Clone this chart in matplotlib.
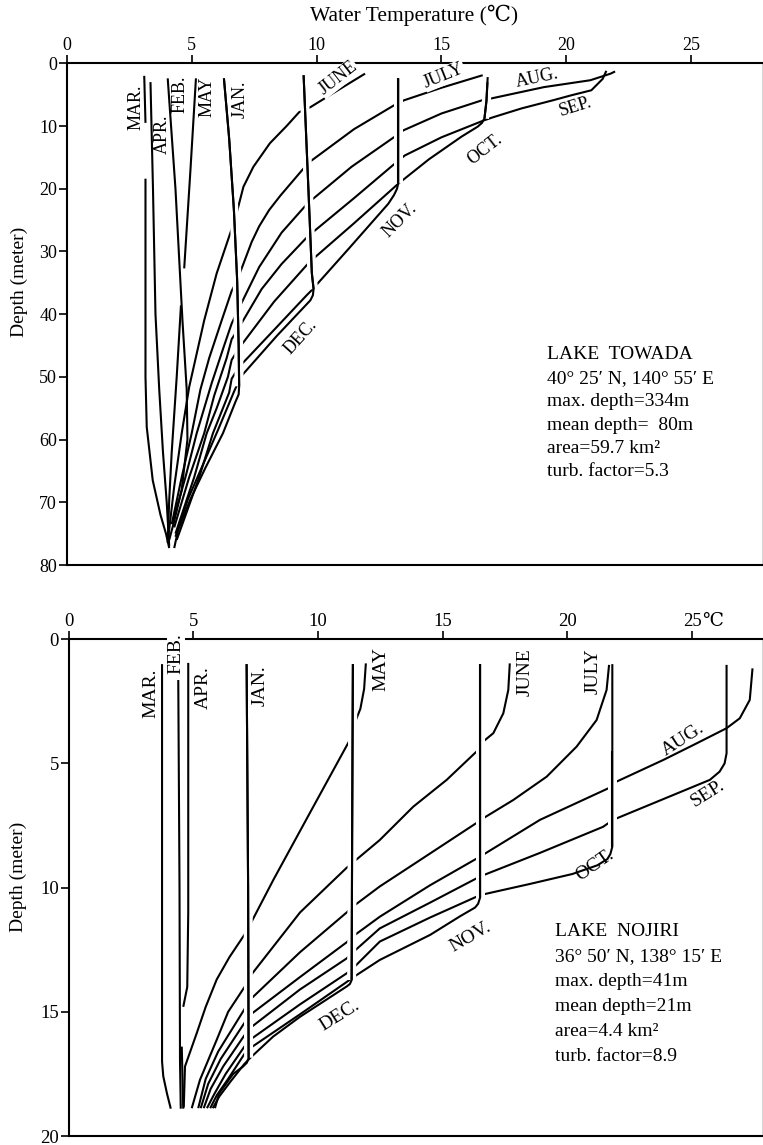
import numpy as np
import matplotlib
matplotlib.use("Agg")
import matplotlib.pyplot as plt
import matplotlib.patheffects as pe

nan = np.nan

# ---------------- Lake Towada: water temperature (deg C) against depth (m)
tw_mar_t = [3.1, 3.15, nan, 3.15, 3.15, 3.15, 3.2, 3.44, 3.75, 3.97, 4.1]
tw_mar_d = [2.0, 9.5, nan, 18.4, 35, 50, 58, 66.5, 72, 75, 77.3]
tw_apr_t = [3.35, 3.45, 3.55, 3.7, 3.85, 4.0, 4.1]
tw_apr_d = [3.0, 20, 40, 52, 62, 70, 77]
tw_feb_t = [4.04, 4.35, 4.63, 4.8, 4.83, 4.6, 4.3, 4.1]
tw_feb_d = [2.4, 20, 41, 52, 60, 68, 73, 76]
tw_may_t = [5.17, 4.95, 4.7, nan, 4.57, 4.4, 4.2, 4.1, 4.04]
tw_may_d = [2.4, 17, 32.7, nan, 38.6, 50, 62, 69.6, 76.5]
tw_jun_t = [11.94, 10.85, 9.75, 9.3, 8.8, 8.13, 7.47, 7.07, 6.76, 6.56, 6.0, 5.5, 4.9,
            4.6, 4.3, 4.05]
tw_jun_d = [1.65, 4.3, 7.0, 7.8, 10.0, 12.75, 16.5, 19.7, 24.5, 26.9, 33.5, 41, 51.6,
            59, 67.5, 76]
tw_jul_t = [16.65, 15.0, 13.5, 13.1, 11.5, 9.8, 9.6, 9.0, 8.55, 8.1, 7.7, 7.4, 6.82, 6.6,
            6.2, 5.7, 5.35, 5.0, 4.6, 4.2]
tw_jul_d = [1.9, 3.9, 5.9, 6.7, 10.5, 15.5, 16.2, 19, 21.1, 23.4, 26, 28.5, 34.6, 36.3,
            41, 47, 52, 59, 66, 73.5]
tw_aug_t = [21.95, 21.77, 20.96, 19.1, 17.0, 16.7, 15.0, 13.47, 13.13, 11.4, 9.8, 9.6,
            8.6, 7.7, 6.85, 6.6, 6.3, 5.8, 5.2, 4.75, 4.25]
tw_aug_d = [1.3, 1.65, 2.7, 3.8, 5.6, 5.8, 8.0, 10.7, 11.7, 16.5, 21.8, 22.5,
            27, 32.5, 39.4, 41.5, 45, 51, 59, 66, 73]
tw_sep_t = [21.6, 21.45, 21.0, 20.2, 19.46, 18.2, 17.07, 16.7, 15.0, 13.53, 13.13, 11.5,
            9.8, 9.6, 8.6, 7.8, 6.87, 6.6, 6.4, 5.9, 5.5, 4.9, 4.3]
tw_sep_d = [1.2, 2.5, 4.3, 5.1, 5.9, 7.2, 8.6, 9.1, 11.8, 14.7, 16, 21.5,
            27.1, 27.8, 32, 36, 42.3, 44, 47, 53, 59, 66, 74]
tw_oct_t = [16.85, 16.8, 16.72, 16.62, 16.45, 15.8, 14.5, 13.27, 11.5, 9.8, 9.6, 8.3, 6.88,
            6.6, 6.45, 6.0, 5.6, 5.1, 4.35]
tw_oct_d = [2.2, 6.0, 8.8, 9.5, 10.1, 11.7, 15.3, 19.2, 25.5, 31.4, 32.2, 38, 45.5,
            47.3, 50, 55, 59, 66, 75]
tw_nov_t = [13.27, 13.27, 13.27, 13.22, 13.1, 12.87, 11.3, 9.8, 9.6, 8.3, 6.9, 6.6, 6.5,
            5.85, 5.3, 4.4]
tw_nov_d = [2.4, 12, 19.1, 20.0, 21.0, 22.4, 29.5, 36.2, 37.0, 42.5, 48.4, 50.3, 52.5,
            59, 66, 76]
tw_dec_t = [9.48, 9.68, 9.81, 9.88, 9.85, 9.75, 8.4, 6.96, 6.7, 6.05, 5.45, 4.85, 4.35]
tw_dec_d = [1.9, 20.8, 33.5, 36.0, 37.0, 37.8, 43.5, 50, 52.3, 58.5, 64, 69.5, 75.5]
tw_jan_t = [6.29, 6.5, 6.69, 6.82, 6.88, 6.9, 6.88, 6.75, 6.25, 5.55, 4.95, 4.45, 4.3]
tw_jan_d = [2.4, 12, 23.4, 34.6, 45, 51.5, 52.8, 54, 59, 64.5, 69.5, 74.5, 77.3]
# depth range of the isothermal (mixed) upper part, drawn over the other curves
tw_mixed = {"OCT": (3.0, 8.8), "NOV": (2.4, 19.1), "DEC": (1.9, 36.0), "JAN": (2.4, 51.5)}

# ---------------- Lake Nojiri
nj_mar_t = [3.75, 3.75, 3.8, 3.95, 4.1]
nj_mar_d = [1.0, 17.0, 17.6, 18.3, 18.9]
nj_feb_t = [4.4, 4.45, 4.47, 4.5]
nj_feb_d = [1.64, 10, 17, 18.9]
nj_apr_t = [4.8, 4.8, 4.76, 4.6, nan, 4.54, 4.6]
nj_apr_d = [0.95, 11, 14.0, 14.8, nan, 16.4, 18.9]
nj_may_t = [11.92, 11.85, 11.7, 11.44, 11.35, 9.78, 8.21, 7.34, 7.05, 6.45, 5.94, 5.5,
            5.14, 4.67, 4.62]
nj_may_d = [0.97, 2.0, 2.8, 3.45, 3.92, 6.8, 9.69, 11.37, 11.9, 12.8, 13.7, 14.8,
            15.86, 17.2, 18.85]
nj_jun_t = [17.69, 17.63, 17.43, 17.03, 16.62, 16.42, 15.16, 13.82, 12.48, 11.15, 9.28,
            7.27, 7.07, 6.4, 5.94, 5.27, 4.94]
nj_jun_d = [0.97, 2.04, 2.98, 3.78, 4.12, 4.46, 5.66, 6.74, 8.08, 9.2, 11.0,
            13.58, 13.98, 15.0, 16.13, 17.74, 18.88]
nj_jul_t = [21.67, 21.57, 21.17, 20.37, 19.17, 17.83, 16.62, 16.35, 14.0, 12.48, 11.35,
            11.15, 9.28, 7.27, 7.05, 6.0, 5.5, 5.2]
nj_jul_d = [1.03, 2.04, 3.25, 4.32, 5.53, 6.47, 7.21, 7.4, 8.95, 9.95, 10.8,
            11.0, 12.6, 14.52, 14.9, 16.6, 17.7, 18.88]
nj_aug_t = [27.42, 27.31, 26.91, 26.38, 25.18, 23.84, 21.97, 21.64, 18.9, 16.5, 14.5,
            12.48, 11.35, 11.15, 9.28, 7.27, 7.05, 6.1, 5.6, 5.3]
nj_aug_d = [1.17, 2.44, 3.18, 3.58, 4.19, 4.86, 5.73, 6.0, 7.27, 8.75, 9.9,
            11.17, 12.0, 12.2, 13.6, 15.13, 15.45, 16.9, 17.9, 18.88]
nj_sep_t = [26.38, 26.38, 26.3, 26.1, 25.71, 21.83, 21.43, 18.9, 16.5, 14.5, 12.48, 11.35,
            11.15, 9.28, 7.27, 7.05, 6.2, 5.7, 5.42]
nj_sep_d = [1.03, 4.59, 5.0, 5.33, 5.66, 7.27, 7.55, 8.6, 9.55, 10.6, 11.64, 12.65,
            12.85, 14.1, 15.66, 15.95, 17.2, 18.1, 18.88]
nj_oct_t = [21.8, 21.8, 21.72, 21.6, 21.2, 20.2, 18.5, 16.5, 14.5, 12.48, 11.35, 11.15,
            9.28, 7.27, 7.05, 6.3, 5.85, 5.55]
nj_oct_d = [1.0, 8.35, 8.65, 8.85, 9.1, 9.45, 9.85, 10.3, 11.2, 12.17, 13.3, 13.45,
            14.7, 16.13, 16.4, 17.5, 18.3, 18.88]
nj_nov_t = [16.5, 16.5, 16.42, 16.3, 15.7, 14.5, 12.48, 11.35, 11.15, 9.28, 7.27, 7.05,
            6.4, 5.95, 5.68]
nj_nov_d = [1.0, 10.4, 10.65, 10.8, 11.15, 11.9, 12.91, 13.65, 13.8, 15.1, 16.47, 16.7,
            17.7, 18.35, 18.88]
nj_dec_t = [11.4, 11.37, 11.35, 11.28, 11.15, 10.2, 9.28, 8.2, 7.27, 7.05, 6.5, 6.05, 5.78]
nj_dec_d = [1.0, 8.0, 13.72, 13.88, 13.98, 14.6, 15.2, 16.0, 16.87, 17.1, 17.8, 18.4, 18.88]
nj_jan_t = [7.14, 7.2, 7.22, 7.15, 7.0, 6.6, 6.04, 5.87]
nj_jan_d = [1.0, 10, 16.85, 17.05, 17.2, 17.5, 18.28, 18.88]
nj_mixed = {"OCT": (4.5, 8.35), "NOV": (1.0, 10.4), "DEC": (1.0, 13.72), "JAN": (1.0, 16.85)}

towada = {"MAR": (tw_mar_t, tw_mar_d), "APR": (tw_apr_t, tw_apr_d), "FEB": (tw_feb_t, tw_feb_d),
          "MAY": (tw_may_t, tw_may_d), "JUNE": (tw_jun_t, tw_jun_d), "JULY": (tw_jul_t, tw_jul_d),
          "AUG": (tw_aug_t, tw_aug_d), "SEP": (tw_sep_t, tw_sep_d), "OCT": (tw_oct_t, tw_oct_d),
          "NOV": (tw_nov_t, tw_nov_d), "DEC": (tw_dec_t, tw_dec_d), "JAN": (tw_jan_t, tw_jan_d)}
nojiri = {"MAR": (nj_mar_t, nj_mar_d), "FEB": (nj_feb_t, nj_feb_d), "APR": (nj_apr_t, nj_apr_d),
          "MAY": (nj_may_t, nj_may_d), "JUNE": (nj_jun_t, nj_jun_d), "JULY": (nj_jul_t, nj_jul_d),
          "AUG": (nj_aug_t, nj_aug_d), "SEP": (nj_sep_t, nj_sep_d), "OCT": (nj_oct_t, nj_oct_d),
          "NOV": (nj_nov_t, nj_nov_d), "DEC": (nj_dec_t, nj_dec_d), "JAN": (nj_jan_t, nj_jan_d)}

tw_info = ["LAKE  TOWADA", "40° 25′ N, 140° 55′ E", "max. depth=334m",
           "mean depth=  80m", "area=59.7 km²", "turb. factor=5.3"]
nj_info = ["LAKE  NOJIRI", "36° 50′ N, 138° 15′ E", "max. depth=41m",
           "mean depth=21m", "area=4.4 km²", "turb. factor=8.9"]

# month labels: text, x, y, rotation
tw_labels = [("MAR.", 2.78, 7.0, 90), ("APR.", 3.83, 11.3, 90), ("FEB.", 4.55, 5.0, 90),
             ("MAY", 5.63, 5.3, 90), ("JAN.", 6.93, 5.7, 90), ("JUNE", 10.86, 2.4, 38),
             ("JULY", 15.1, 2.0, 22), ("AUG.", 18.84, 2.35, 12), ("SEP.", 20.36, 7.0, 17),
             ("OCT.", 16.74, 13.8, 38), ("NOV.", 13.34, 25.0, 45), ("DEC.", 9.38, 43.6, 48)]
nj_labels = [("MAR.", 3.31, 2.16, 90), ("FEB.", 4.31, 0.57, 90), ("APR.", 5.41, 1.96, 90),
             ("JAN.", 7.68, 1.88, 90), ("MAY", 12.53, 1.2, 90), ("JUNE", 18.3, 1.32, 90),
             ("JULY", 21.02, 1.28, 90), ("AUG.", 24.63, 4.05, 33), ("SEP.", 25.61, 6.23, 32),
             ("OCT.", 21.1, 9.08, 35), ("NOV.", 16.13, 11.98, 30), ("DEC.", 10.88, 15.17, 32)]

plt.rcParams["font.family"] = ["Liberation Serif", "DejaVu Serif", "DejaVu Sans"]
LW = 1.5
GAP = 6.5
ORDER = ["OCT", "NOV", "DEC", "JAN"]


def style(ax, xmax, ymax, yticks, xlabels, fs):
    ax.set_xlim(0, xmax)
    ax.set_ylim(ymax, 0)
    ax.xaxis.tick_top()
    ax.set_xticks([0, 5, 10, 15, 20, 25])
    ax.set_xticklabels(xlabels)
    ax.set_yticks(yticks)
    ax.tick_params(direction="out", length=5.5, width=1.2, pad=1.5, labelsize=fs)
    for s in ("top", "left", "bottom"):
        ax.spines[s].set_linewidth(1.5)
    ax.spines["right"].set_color("#d5d5d5")
    ax.spines["right"].set_linewidth(0.8)


def draw_lake(ax, profiles, mixed):
    for name, (t, d) in profiles.items():
        t = np.asarray(t, float)
        d = np.asarray(d, float)
        if name in mixed:
            # mixed layer drawn last with a white halo, so crossing curves show a break
            z = 3 + 0.1 * ORDER.index(name)
            top, bot = mixed[name]
            dd = np.linspace(top, bot, 40)
            tt = np.interp(dd, d, t)
            ax.plot(tt, dd, color="k", lw=LW, zorder=z, solid_capstyle="butt",
                    path_effects=[pe.Stroke(linewidth=GAP, foreground="white"), pe.Normal()])
            ax.plot(t, d, color="k", lw=LW, zorder=z + 0.01, solid_capstyle="butt",
                    solid_joinstyle="round")
        else:
            ax.plot(t, d, color="k", lw=LW, zorder=2, solid_capstyle="butt",
                    solid_joinstyle="round")


fig = plt.figure(figsize=(7.63, 11.45), dpi=100)
ax1 = fig.add_axes([0.08755, 0.50655, 0.9111, 0.43817])
ax2 = fig.add_axes([0.08978, 0.00786, 0.9089, 0.43380])

style(ax1, 27.83, 80, range(0, 81, 10), ["0", "5", "10", "15", "20", "25"], 13)
style(ax2, 27.8, 20, [0, 5, 10, 15, 20], ["0", "5", "10", "15", "20", "25"], 13.5)
ax2.annotate("℃", xy=(25.4, 1), xycoords=("data", "axes fraction"), xytext=(0, 7),
             textcoords="offset points", ha="left", va="bottom", fontsize=13.5)

draw_lake(ax1, towada, tw_mixed)
draw_lake(ax2, nojiri, nj_mixed)

cover = dict(facecolor="white", edgecolor="none", pad=0.5)
for txt, x, y, rot in tw_labels:
    ax1.text(x, y, txt, rotation=rot, ha="center", va="center", fontsize=13,
             rotation_mode="anchor", zorder=5,
             bbox=cover if txt in ("JUNE", "JULY") else None)
for txt, x, y, rot in nj_labels:
    ax2.text(x, y, txt, rotation=rot, ha="center", va="center", fontsize=14,
             rotation_mode="anchor", zorder=5,
             bbox=cover if txt == "FEB." else None)

for i, line in enumerate(tw_info):
    ax1.text(19.22, 46.5 + i * 3.73, line, ha="left", va="center", fontsize=14)
for i, line in enumerate(nj_info):
    ax2.text(19.5, 11.78 + i * 1.006, line, ha="left", va="center", fontsize=14)

fig.text(0.5433, 0.987, "Water Temperature (℃)", ha="center", va="center", fontsize=15.5)
fig.text(0.025, 0.754, "Depth (meter)", rotation=90, ha="center", va="center", fontsize=14)
fig.text(0.024, 0.234, "Depth (meter)", rotation=90, ha="center", va="center", fontsize=14)

fig.savefig("out.png", dpi=100)
